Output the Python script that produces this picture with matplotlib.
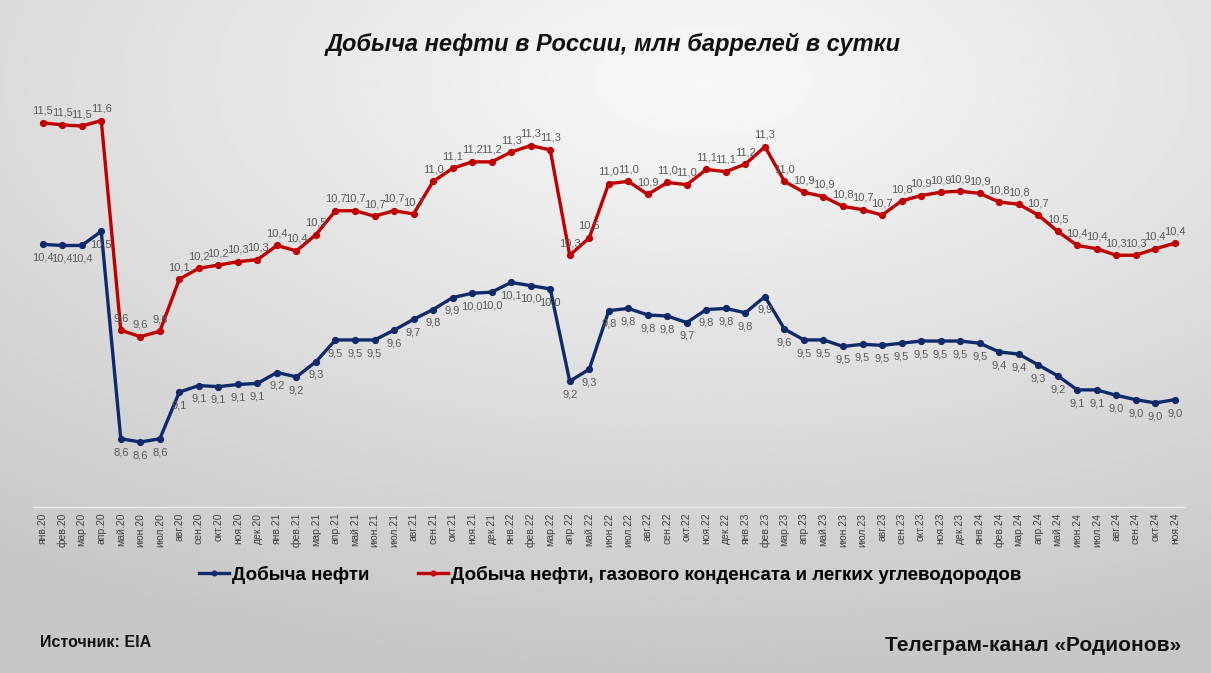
import numpy as np
import matplotlib
matplotlib.use("Agg")
import matplotlib.pyplot as plt

plt.rcParams['font.family'] = ['Liberation Sans', 'DejaVu Sans']

# months Jan 2020 .. Nov 2024
months = ["янв", "фев", "мар", "апр", "май", "июн", "июл", "авг", "сен", "окт", "ноя", "дек"]
years = ["20", "21", "22", "23", "24"]
tick_labels = [f"{m}.{y}" for y in years for m in months][:59]

# Добыча нефти, млн барр./сутки
crude = [10.42, 10.41, 10.41, 10.54, 8.63, 8.60, 8.63, 9.06, 9.12, 9.11, 9.13, 9.14,
         9.24, 9.20, 9.34, 9.54, 9.54, 9.54, 9.63, 9.73, 9.82, 9.93, 9.97, 9.98,
         10.07, 10.04, 10.01, 9.16, 9.27, 9.81, 9.83, 9.77, 9.76, 9.70, 9.82, 9.83,
         9.79, 9.94, 9.64, 9.54, 9.54, 9.48, 9.50, 9.49, 9.51, 9.53, 9.53, 9.53,
         9.51, 9.43, 9.41, 9.31, 9.21, 9.08, 9.08, 9.03, 8.99, 8.96, 8.99]

# Добыча нефти, газового конденсата и легких углеводородов
total = [11.54, 11.52, 11.51, 11.56, 9.63, 9.57, 9.62, 10.10, 10.20, 10.23, 10.26, 10.28,
         10.41, 10.36, 10.51, 10.73, 10.73, 10.68, 10.73, 10.70, 11.00, 11.12, 11.18, 11.18,
         11.27, 11.33, 11.29, 10.32, 10.48, 10.98, 11.00, 10.88, 10.99, 10.97, 11.11, 11.09,
         11.16, 11.32, 11.00, 10.90, 10.86, 10.77, 10.74, 10.69, 10.82, 10.87, 10.90, 10.91,
         10.89, 10.81, 10.79, 10.69, 10.54, 10.41, 10.38, 10.32, 10.32, 10.38, 10.43]

BLUE = "#0e2a6b"
RED = "#c00000"

fig = plt.figure(figsize=(12.11, 6.73), dpi=100)

# soft gray radial background
bg = fig.add_axes([0, 0, 1, 1], zorder=-10)
yy, xx = np.mgrid[0:1:400j, 0:1:700j]
r = np.sqrt(((xx - 0.58) / 1.0) ** 2 + ((yy - 0.12) / 0.9) ** 2)
shade = np.clip(0.975 - 0.20 * r, 0.78, 1)
bg.imshow(shade, cmap="gray", vmin=0, vmax=1, aspect="auto", extent=[0, 1, 0, 1], origin="upper")
bg.axis("off")

ax = fig.add_axes([0.0272, 0.2464, 0.951, 0.6454])
ax.set_facecolor("none")
x = np.arange(len(tick_labels))

ax.plot(x, crude, color=BLUE, lw=2.4, marker="o", ms=4.2, label="Добыча нефти", zorder=3)
ax.plot(x, total, color=RED, lw=2.4, marker="o", ms=4.2,
        label="Добыча нефти, газового конденсата и легких углеводородов", zorder=3)

for xi, v in zip(x, total):
    ax.annotate(f"{v:.1f}".replace(".", ","), (xi, v), xytext=(0, 5), textcoords="offset points",
                ha="center", va="bottom", fontsize=8, color="#595959")
for xi, v in zip(x, crude):
    ax.annotate(f"{v:.1f}".replace(".", ","), (xi, v), xytext=(0, -6), textcoords="offset points",
                ha="center", va="top", fontsize=8, color="#595959")

ax.set_xlim(-0.5, len(x) - 0.5)
ax.set_ylim(8.0, 12.0)
ax.set_xticks(x)
ax.set_xticklabels(tick_labels, rotation=90, fontsize=7.5, color="#404040")
ax.tick_params(axis="x", length=0, pad=4)
ax.set_yticks([])
for s in ["top", "left", "right"]:
    ax.spines[s].set_visible(False)
ax.spines["bottom"].set_color("#ececec")
ax.spines["bottom"].set_linewidth(1.0)

fig.text(0.506, 0.934, "Добыча нефти в России, млн баррелей в сутки", ha="center", va="center",
         fontsize=17, fontweight="bold", fontstyle="italic", color="#111111")

fig.legend(loc="center", bbox_to_anchor=(0.504, 0.146), ncol=2, frameon=False,
           prop={"size": 13.5, "weight": "bold"}, handlelength=1.6, handletextpad=0.15,
           columnspacing=2.6, markerscale=0.8)

fig.text(0.033, 0.045, "Источник: EIA", ha="left", va="center", fontsize=11.5,
         fontweight="bold", color="#111111")
fig.text(0.975, 0.041, "Телеграм-канал «Родионов»", ha="right", va="center", fontsize=15,
         fontweight="bold", color="#111111")

fig.savefig("out.png", dpi=100)
